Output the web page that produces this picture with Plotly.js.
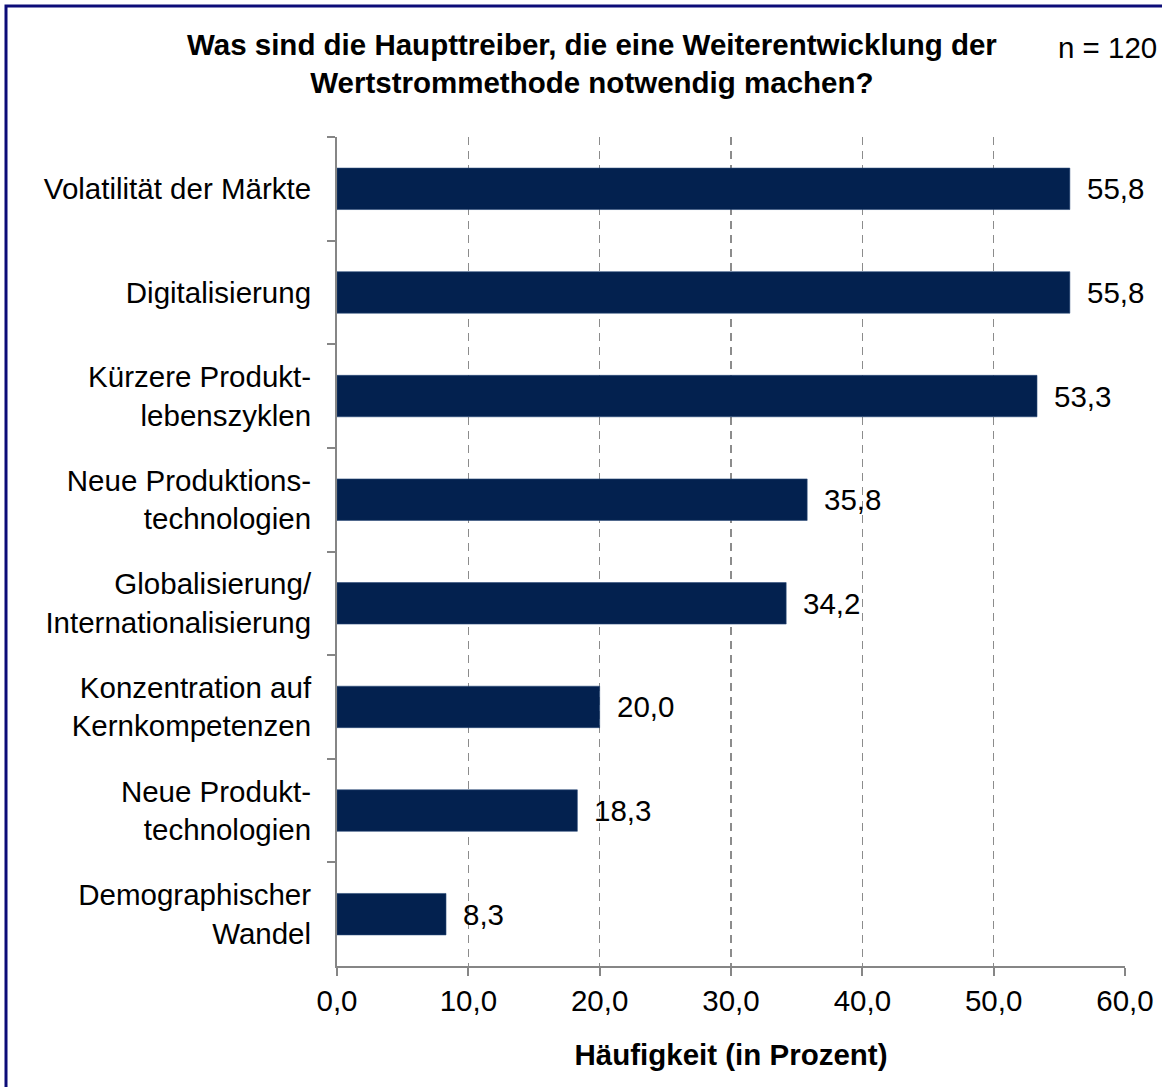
<!DOCTYPE html>
<html>
<head>
<meta charset="utf-8">
<script src="https://cdn.plot.ly/plotly-3.0.1.min.js"></script>
<style>
  html, body { margin: 0; padding: 0; background: #ffffff; }
  #chart { width: 1162px; height: 1087px; }
</style>
</head>
<body>
<div id="chart"></div>
<script>
const categories = [
  "Volatilität der Märkte",
  "Digitalisierung",
  "Kürzere Produkt-<br>lebenszyklen",
  "Neue Produktions-<br>technologien",
  "Globalisierung/<br>Internationalisierung",
  "Konzentration auf<br>Kernkompetenzen",
  "Neue Produkt-<br>technologien",
  "Demographischer<br>Wandel"
];
const values = [55.8, 55.8, 53.3, 35.8, 34.2, 20.0, 18.3, 8.3];
const tickValues = [0, 10, 20, 30, 40, 50, 60];
const tickLabels = ["0,0", "10,0", "20,0", "30,0", "40,0", "50,0", "60,0"];
const titleText = "<b>Was sind die Haupttreiber, die eine Weiterentwicklung der<br>Wertstrommethode notwendig machen?</b>";
const sampleText = "n = 120";
const xTitleText = "<b>Häufigkeit (in Prozent)</b>";

const FONT = "Liberation Sans";
const FS = 29.5;
const W = 1162, H = 1087;
const L = 337, R = 37, T = 137, B = 121;
const pw = W - L - R, ph = H - T - B;
const px2x = p => (p - L) / pw;
const py2y = p => (H - B - p) / ph;

const labelAnnots = values.map((v, i) => ({
  x: v, y: categories[i], xref: "x", yref: "y",
  text: v.toFixed(1).replace(".", ","),
  showarrow: false, xanchor: "left", yanchor: "middle",
  xshift: 15, font: {family: FONT, size: FS, color: "#000000"}
}));

const data = [{
  type: "bar",
  orientation: "h",
  x: values,
  y: categories,
  width: 0.4,
  marker: {color: "#03214f", line: {color: "#2a4a78", width: 0.6}},
  hoverinfo: "skip"
}];

const layout = {
  width: W, height: H,
  margin: {l: L, r: R, t: T, b: B, pad: 0},
  paper_bgcolor: "#ffffff",
  plot_bgcolor: "#ffffff",
  showlegend: false,
  separators: ",.",
  font: {family: FONT, size: FS, color: "#000000"},
  xaxis: {
    range: [0, 60],
    tickvals: tickValues,
    ticktext: tickLabels,
    showgrid: true,
    gridcolor: "#8c8c8c",
    gridwidth: 1.5,
    griddash: "8px,6px",
    zeroline: false,
    showline: true,
    linecolor: "#868686",
    linewidth: 2,
    ticks: "outside",
    ticklen: 8,
    tickwidth: 2,
    tickcolor: "#868686",
    tickfont: {family: FONT, size: FS, color: "#000000"},
    ticklabelstandoff: 0,
    title: {
      text: xTitleText,
      font: {family: FONT, size: FS, color: "#000000"},
      standoff: 28
    },
    fixedrange: true
  },
  yaxis: {
    type: "category",
    autorange: "reversed",
    showgrid: false,
    zeroline: false,
    showline: true,
    linecolor: "#868686",
    linewidth: 2,
    ticks: "outside",
    tickson: "boundaries",
    ticklen: 8,
    tickwidth: 2,
    tickcolor: "#868686",
    tickfont: {family: FONT, size: FS, color: "#000000"},
    ticklabelstandoff: 18,
    fixedrange: true
  },
  annotations: labelAnnots.concat([{
    text: titleText, showarrow: false,
    xref: "paper", yref: "paper",
    x: px2x(592), xanchor: "center",
    y: py2y(63), yanchor: "middle",
    font: {family: FONT, size: FS, color: "#000000"}
  }, {
    text: sampleText, showarrow: false,
    xref: "paper", yref: "paper",
    x: px2x(1159), xanchor: "right",
    y: py2y(47), yanchor: "middle",
    font: {family: FONT, size: FS, color: "#000000"}
  }]),
  shapes: [{
    type: "rect", xref: "paper", yref: "paper",
    x0: px2x(6), x1: px2x(W + 20),
    y0: py2y(H + 20), y1: py2y(6),
    line: {color: "#0c0c78", width: 3},
    fillcolor: "rgba(0,0,0,0)",
    layer: "above"
  }]
};

Plotly.newPlot("chart", data, layout, {displayModeBar: false, staticPlot: true});
</script>
</body>
</html>
